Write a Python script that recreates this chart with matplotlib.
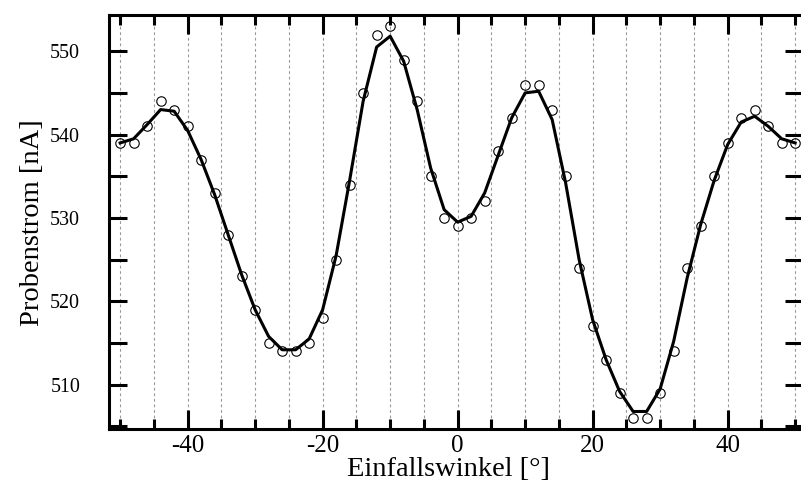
import matplotlib
matplotlib.use("Agg")
import matplotlib.pyplot as plt
from matplotlib.ticker import MultipleLocator

# Messpunkte (Einfallswinkel in Grad, Probenstrom in nA)
winkel = [-50, -48, -46, -44, -42, -40, -38, -36, -34, -32, -30, -28, -26,
          -24, -22, -20, -18, -16, -14, -12, -10, -8, -6, -4, -2, 0,
          2, 4, 6, 8, 10, 12, 14, 16, 18, 20, 22, 24, 26, 28, 30,
          32, 34, 36, 38, 40, 42, 44, 46, 48, 50]
strom = [539, 539, 541, 544, 543, 541, 537, 533, 528, 523, 519, 515, 514,
         514, 515, 518, 525, 534, 545, 552, 553, 549, 544, 535, 530, 529,
         530, 532, 538, 542, 546, 546, 543, 535, 524, 517, 513, 509, 506, 506, 509,
         514, 524, 529, 535, 539, 542, 543, 541, 539, 539]

# geglaettete Kurve
strom_glatt = [539.0, 539.5, 541.2, 543.0, 542.8, 540.5, 537.0, 532.8, 528.0, 523.2,
               519.0, 515.8, 514.2, 514.2, 515.5, 519.0, 525.5, 534.5, 544.0, 550.5,
               551.8, 548.8, 543.0, 536.0, 531.0, 529.5, 530.2, 533.0, 537.5, 542.0,
               545.0, 545.2, 541.8, 534.2, 525.0, 517.8, 513.0, 509.2, 506.8, 506.8,
               509.5, 515.2, 522.8, 529.2, 534.5, 538.8, 541.5, 542.2, 541.0, 539.5, 539.0]

plt.rcParams['font.family'] = ['Liberation Serif', 'DejaVu Serif']

fig = plt.figure(figsize=(8.01, 4.88), dpi=100)
ax = fig.add_axes([0.1365, 0.1209, 0.8663, 0.8477])

ax.plot(winkel, strom_glatt, color='black', lw=2.2, zorder=3)
ax.plot(winkel, strom, linestyle='none', marker='o', markersize=6.8,
        markerfacecolor='none', markeredgecolor='black', markeredgewidth=0.8, zorder=4)

ax.set_xlim(-51.6, 51.2)
ax.set_ylim(504.7, 554.3)

ax.xaxis.set_major_locator(MultipleLocator(20))
ax.xaxis.set_minor_locator(MultipleLocator(5))
ax.yaxis.set_major_locator(MultipleLocator(10))
ax.yaxis.set_minor_locator(MultipleLocator(5))

ax.grid(which='both', axis='x', color='#999999', linestyle=(0, (2.5, 2.5)), lw=0.8)

ax.tick_params(axis='x', which='major', direction='in', top=True, length=13.5, width=2.2,
               labelsize=18, pad=4)
ax.tick_params(axis='x', which='minor', direction='in', top=True, length=7, width=2.2)
ax.tick_params(axis='y', which='both', direction='in', right=True, length=13, width=2.2,
               labelsize=14.4, pad=21)

for s in ax.spines.values():
    s.set_linewidth(2.2)

ax.set_xticks([-40, -20, 0, 20, 40])
ax.set_xticklabels(['-40', '-20', '0', '20', '40'])

ax.set_xlabel('Einfallswinkel [°]', fontsize=20.5, labelpad=0)
ax.xaxis.set_label_coords(0.489, -0.067)
ax.set_ylabel('Probenstrom [nA]', fontsize=20.5, labelpad=4)

fig.savefig('out.png', dpi=100)
